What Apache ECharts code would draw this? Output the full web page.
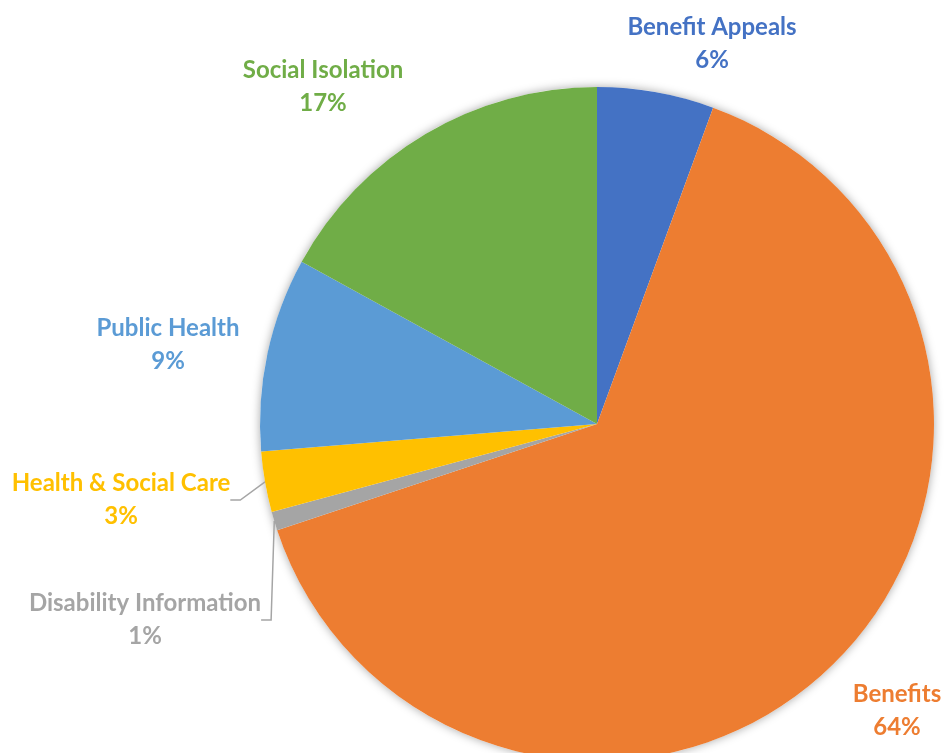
<!DOCTYPE html>
<html><head><meta charset="utf-8">
<script src="https://cdn.jsdelivr.net/npm/echarts@6/dist/echarts.min.js"></script>
<style>html,body{margin:0;padding:0;background:#fff}#c{width:944px;height:753px}</style>
</head><body><div id="c"></div>
<script>
const categories = ['Benefit Appeals','Benefits','Disability Information','Health & Social Care','Public Health','Social Isolation'];
const values = [5.6, 64.3, 0.9, 2.9, 9.3, 17.0];
const colors = ['#4472C4','#ED7D31','#A5A5A5','#FFC000','#5B9BD5','#70AD47'];
const labelPos = [[712,44],[897,711],[145,620],[121,500],[168,345],[323,87]];
const withLine = [false,false,true,true,false,false];

const chart = echarts.init(document.getElementById('c'));
const total = values.reduce((a,b)=>a+b,0);
chart.setOption({
  animation:false,
  series:[
    {type:'pie', silent:true, center:[597,424], radius:337, z:1,
     label:{show:false}, labelLine:{show:false},
     itemStyle:{color:'#fff', shadowBlur:10, shadowColor:'rgba(0,0,0,0.35)'},
     data:[{name:'bg', value: total}]},
    {type:'pie', center:[597,424], radius:337, startAngle:90, clockwise:true, z:2,
     percentPrecision:0,
     data: categories.map((n,i)=>({name:n, value:values[i],
        itemStyle:{color:colors[i]},
        label:{color:colors[i]},
        labelLine:{show:withLine[i], lineStyle:{color:'#A5A5A5', width:1.5}}})),
     label:{show:true, formatter:'{b}\n{d}%', fontFamily:'Lato', fontWeight:'bold', fontSize:24, lineHeight:33, align:'center', overflow:'none'},
     labelLine:{show:false, length:10, length2:10},
     labelLayout: function(p){ const q = labelPos[p.dataIndex]; return {x:q[0], y:q[1], align:'center', verticalAlign:'middle'}; }
    }
  ]
});
</script></body></html>
